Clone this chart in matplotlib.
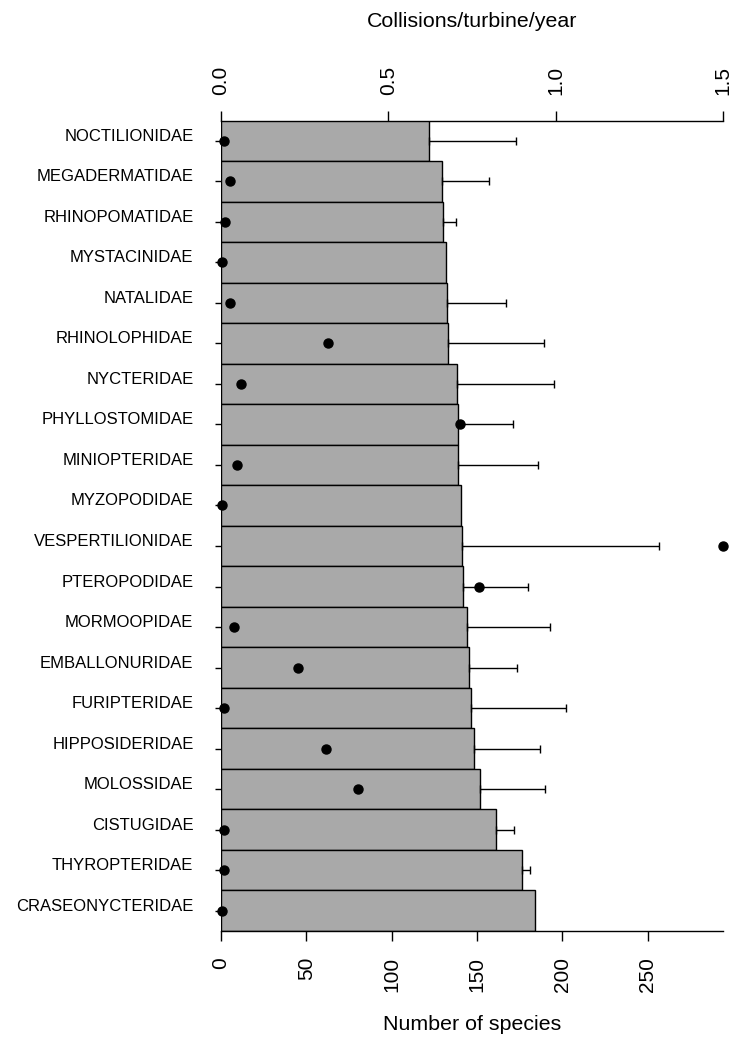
import numpy as np
import matplotlib
matplotlib.use("Agg")
import matplotlib.pyplot as plt

plt.rcParams['font.family'] = ['Liberation Sans', 'DejaVu Sans']

families = ["NOCTILIONIDAE", "MEGADERMATIDAE", "RHINOPOMATIDAE", "MYSTACINIDAE",
            "NATALIDAE", "RHINOLOPHIDAE", "NYCTERIDAE", "PHYLLOSTOMIDAE",
            "MINIOPTERIDAE", "MYZOPODIDAE", "VESPERTILIONIDAE", "PTEROPODIDAE",
            "MORMOOPIDAE", "EMBALLONURIDAE", "FURIPTERIDAE", "HIPPOSIDERIDAE",
            "MOLOSSIDAE", "CISTUGIDAE", "THYROPTERIDAE", "CRASEONYCTERIDAE"]
collisions = [0.621, 0.661, 0.663, 0.673, 0.675, 0.679, 0.706, 0.709, 0.709, 0.718,
              0.721, 0.723, 0.735, 0.742, 0.747, 0.757, 0.774, 0.822, 0.898, 0.938]
collisions_upper = [0.880, 0.802, 0.703, np.nan, 0.852, 0.966, 0.995, 0.873, 0.946, np.nan,
                    1.308, 0.917, 0.984, 0.885, 1.031, 0.954, 0.969, 0.876, 0.923, np.nan]
species = [1.5, 5, 2.5, 0.5, 5, 62.5, 11.5, 140, 9.5, 0.5,
           294, 151, 7.5, 45, 1.5, 61.5, 80, 1.5, 1.5, 0.5]
top_ticks = [0.0, 0.5, 1.0, 1.5]
top_labels = ['0.0', '0.5', '1.0', '1.5']
bottom_ticks = [0, 50, 100, 150, 200, 250]

W, H = 739, 1044
fig = plt.figure(figsize=(W / 100, H / 100), dpi=100)
left, right, top, bottom = 221, 723, 120.5, 931
ax = fig.add_axes([left / W, 1 - bottom / H, (right - left) / W, (bottom - top) / H])
ax2 = ax.twiny()

y = np.arange(len(families))
ax.barh(y, collisions, height=1.0, color='#a9a9a9', edgecolor='black', linewidth=1.0, zorder=2)

mask = ~np.isnan(np.array(collisions_upper))
vals = np.array(collisions)[mask]
upp = np.array(collisions_upper)[mask]
ax.errorbar(vals, y[mask], xerr=[np.zeros_like(vals), upp - vals], fmt='none',
            ecolor='black', elinewidth=1.0, capsize=2.6, capthick=1.0, zorder=3)

ax.set_xlim(0, 1.5)
ax.set_ylim(len(families) - 0.5, -0.5)
ax.xaxis.set_ticks_position('top')
ax.set_xticks(top_ticks)
ax.set_xticklabels(top_labels, rotation=90, fontsize=15)
ax.tick_params(axis='x', which='both', direction='out', length=7.2, width=1.0, pad=11.5,
               top=True, labeltop=True, bottom=False, labelbottom=False)
ax.set_yticks(y)
ax.set_yticklabels(families, fontsize=12)
ax.tick_params(axis='y', direction='out', length=4.3, width=1.0, pad=15.5)
for lab in ax.get_yticklabels():
    lab.set_verticalalignment('baseline')
for s in ['left', 'right', 'bottom']:
    ax.spines[s].set_visible(False)
ax.spines['top'].set_visible(True)
ax.spines['top'].set_linewidth(1.0)

ax2.plot(species, y, 'o', color='black', markersize=6.5, clip_on=False, zorder=5)
ax2.set_xlim(0, 294)
ax2.set_ylim(len(families) - 0.5, -0.5)
ax2.set_xticks(bottom_ticks)
ax2.set_xticklabels([str(t) for t in bottom_ticks], rotation=90, fontsize=15)
ax2.tick_params(axis='x', which='both', direction='out', length=7.2, width=1.0, pad=11.5,
                bottom=True, labelbottom=True, top=False, labeltop=False)
for s in ['left', 'right', 'top']:
    ax2.spines[s].set_visible(False)
ax2.spines['bottom'].set_visible(True)
ax2.spines['bottom'].set_linewidth(1.0)

fig.text(472 / W, 1 - 26.7 / H, 'Collisions/turbine/year', ha='center', va='baseline', fontsize=15.4)
fig.text(472 / W, 1 - 1030 / H, 'Number of species', ha='center', va='baseline', fontsize=15.4)

fig.savefig('out.png', dpi=100)
